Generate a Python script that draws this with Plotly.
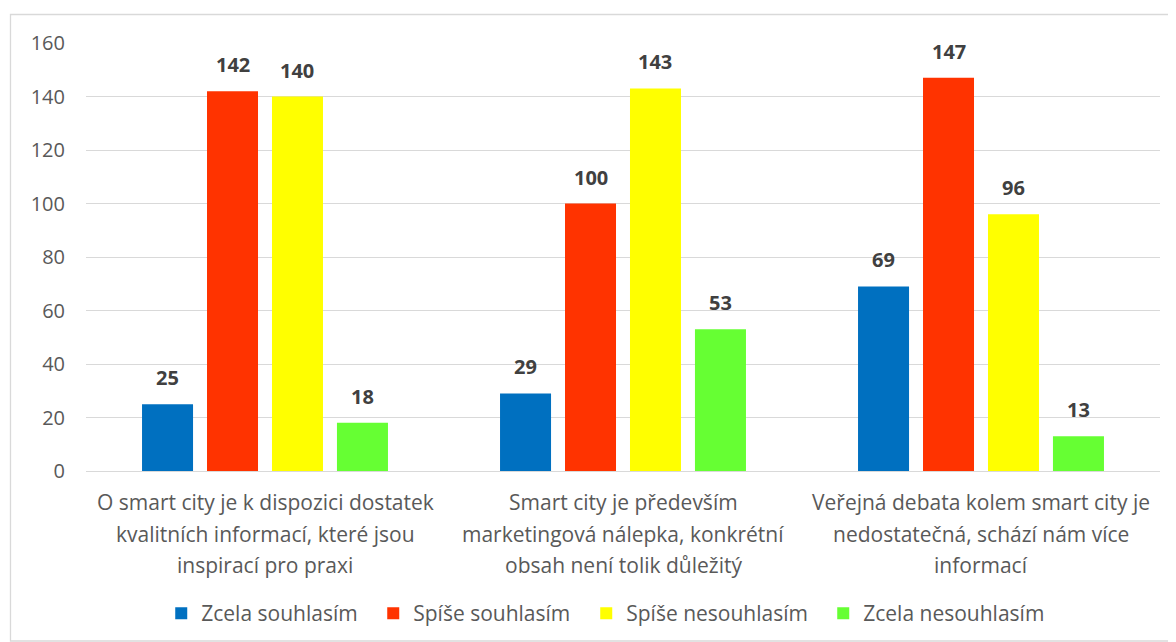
import plotly.graph_objects as go

categories = [
    "O smart city je k dispozici dostatek<br>kvalitních informací, které jsou<br>inspirací pro praxi",
    "Smart city je především<br>marketingová nálepka, konkrétní<br>obsah není tolik důležitý",
    "Veřejná debata kolem smart city je<br>nedostatečná, schází nám více<br>informací",
]
series_names = ["Zcela souhlasím", "Spíše souhlasím", "Spíše nesouhlasím", "Zcela nesouhlasím"]
zcela_souhlasim = [25, 29, 69]
spise_souhlasim = [142, 100, 147]
spise_nesouhlasim = [140, 143, 96]
zcela_nesouhlasim = [18, 53, 13]
y_ticks = [0, 20, 40, 60, 80, 100, 120, 140, 160]

series_values = [zcela_souhlasim, spise_souhlasim, spise_nesouhlasim, zcela_nesouhlasim]
colors = ["#0070C0", "#FF3300", "#FFFF00", "#66FF33"]
legend_widths = [167, 168, 192, 180]

FONT = "Open Sans"
OFF = 8  # page body margin
W, H = 1176 - OFF, 642 - OFF
ml, mr, mt, mb = 86 - OFF, 16, 43 - OFF, 171
pw = W - ml - mr
ph = H - mt - mb

fig = go.Figure()
for name, vals, col, lw in zip(series_names, series_values, colors, legend_widths):
    fig.add_trace(go.Bar(name=name, x=categories, y=vals, legendwidth=lw,
                         marker=dict(color=col, line=dict(width=0))))

slot = pw / len(categories) * (1 - 0.274) / len(series_names)
for i, vals in enumerate(series_values):
    for c, v in zip(categories, vals):
        fig.add_annotation(
            x=c, y=v, xref="x", yref="y", text=str(v), showarrow=False,
            xshift=(i - (len(series_names) - 1) / 2) * slot, yshift=11, yanchor="bottom",
            font=dict(family=FONT, size=20, color="#404040", weight="bold"),
        )

# category labels (one annotation per line, for Excel-like line spacing)
line_gap = 31.5
for c in categories:
    for k, line in enumerate(c.split("<br>")):
        fig.add_annotation(
            x=c, xref="x", yref="paper", y=0, yshift=-(31 + k * line_gap),
            text=line, showarrow=False, yanchor="middle", xanchor="center",
            font=dict(family=FONT, size=21, color="#595959"),
        )

# chart border
fig.add_shape(
    type="rect", xref="paper", yref="paper",
    x0=(10.5 - OFF - ml) / pw, x1=(1175 - OFF - ml) / pw,
    y0=(H - mb - (641 - OFF)) / ph, y1=1 + (mt - (14.5 - OFF)) / ph,
    line=dict(color="#D9D9D9", width=1.3), fillcolor="rgba(0,0,0,0)", layer="below",
)

fig.update_layout(
    width=W, height=H,
    margin=dict(l=ml, r=mr, t=mt, b=mb, autoexpand=False),
    paper_bgcolor="white", plot_bgcolor="white",
    barmode="group", bargap=0.274, bargroupgap=0.215,
    font=dict(family=FONT, size=20, color="#595959"),
    showlegend=True,
    legend=dict(
        orientation="h", x=0.483, xanchor="center", y=-0.333, yanchor="middle",
        font=dict(family=FONT, size=21, color="#595959"),
        itemwidth=30, traceorder="normal",
    ),
    xaxis=dict(
        showgrid=False, showline=False, ticks="", zeroline=False,
        showticklabels=False,
    ),
    yaxis=dict(
        range=[0, 160], tickvals=y_ticks, showgrid=True, gridcolor="#D9D9D9", gridwidth=1.3,
        zeroline=True, zerolinecolor="#D9D9D9", zerolinewidth=1.3,
        showline=False, ticks="",
        tickfont=dict(family=FONT, size=20, color="#595959"),
        ticklabelstandoff=20,
    ),
)

fig.write_html("out.html")
